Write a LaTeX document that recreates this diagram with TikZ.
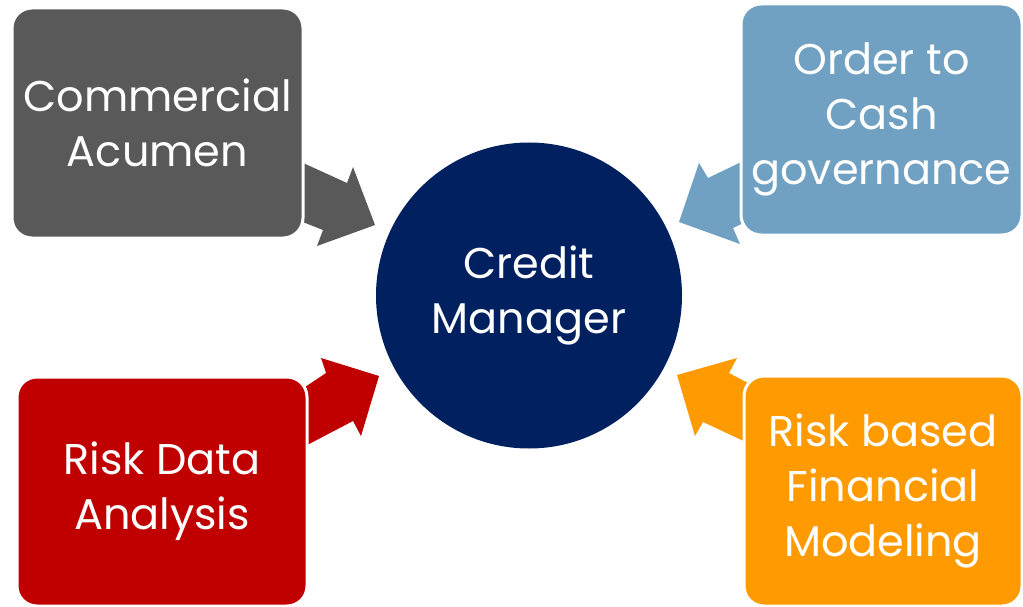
\documentclass[tikz,border=0pt]{standalone}
\usepackage{fontspec}
\setmainfont{Poppins}
\definecolor{cgray}{HTML}{595959}
\definecolor{cblue}{HTML}{70A1C2}
\definecolor{cred}{HTML}{C00000}
\definecolor{corange}{HTML}{FF9B00}
\definecolor{cnavy}{HTML}{002060}
\tikzset{
  box/.style={rectangle, rounded corners=20pt, draw=white, line width=3pt, text=white, align=center,
    inner sep=0pt, font=\fontsize{43}{55}\selectfont},
  hub/.style={circle, fill=cnavy, text=white, align=center, inner sep=0pt, minimum size=306pt,
    font=\fontsize{43}{55}\selectfont},
  blockarrow/.style={draw=none}
}
\begin{document}
\begin{tikzpicture}[x=1pt,y=-1pt]
\useasboundingbox (0,0) rectangle (1023,607);
\clip (0,0) rectangle (1023,607);
% block arrows
\fill[cgray] (290,157) -- (347,183) -- (353,167) -- (375,225) -- (317,246) -- (323,230) -- (290,217) -- cycle;
\fill[cblue] (679,222) -- (699,163) -- (708,178) -- (760,153) -- (760,215) -- (733,228) -- (740,244) -- cycle;
\fill[cred] (379,376) -- (321,358) -- (326,373) -- (290,397) -- (290,454) -- (353,421) -- (361,436) -- cycle;
\fill[corange] (677,375) -- (737,358) -- (729,373) -- (765,392) -- (765,451) -- (703,422) -- (695,436) -- cycle;
% boxes
\node[box, fill=cgray, minimum width=291pt, minimum height=230pt] (ca) at (157.5,123) {Commercial\\Acumen};
\node[box, fill=cblue, minimum width=281pt, minimum height=231pt] (oc) at (881.5,119.5) {Order to\\Cash\\governance};
\node[box, fill=cred, minimum width=290pt, minimum height=229pt] (rd) at (162,491.5) {Risk Data\\Analysis};
\node[box, fill=corange, minimum width=278pt, minimum height=230pt] (rf) at (883,491) {Risk based\\Financial\\Modeling};
\node[hub] (cm) at (529,295.5) {Credit\\Manager};
\end{tikzpicture}
\end{document}
